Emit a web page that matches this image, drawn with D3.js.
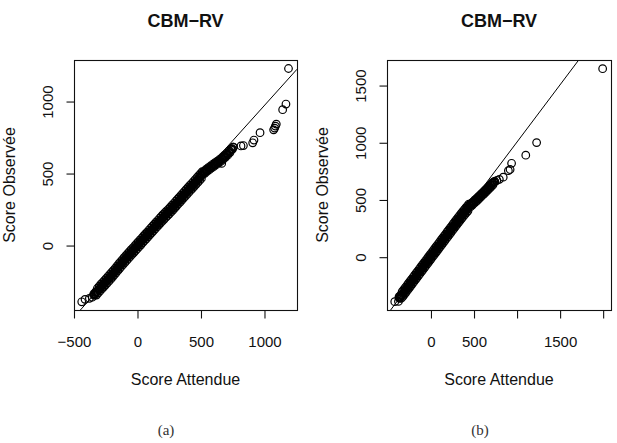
<!DOCTYPE html>
<html>
<head>
<meta charset="utf-8">
<script src="https://cdn.jsdelivr.net/npm/d3@7"></script>
<style>
  html, body { margin: 0; padding: 0; background: #fff; }
  svg { display: block; }
</style>
</head>
<body>
<svg id="chart" width="617" height="443"></svg>
<script>
// ---------------- DATA ----------------
const titles = ["CBM\u2212RV", "CBM\u2212RV"];
const captions = ["(a)", "(b)"];
const xAxisTitle = "Score Attendue";
const yAxisTitle = "Score Observée";

// Panel (a): expected vs observed scores (spread of the dense band + outliers)
const leftExpected = [
  -435, -409, -375, -352,
  -340, -333, -326, -319, -312, -305, -298, -291, -284, -277, -270, -263, -256, -249, -242, -235,
  -228, -221, -214, -207, -200, -193, -186, -179, -172, -165, -158, -151, -144, -137, -130, -123,
  -116, -109, -102, -95, -88, -81, -74, -67, -60, -53, -46, -39, -32, -25, -18, -11, -4, 3, 10,
  17, 24, 31, 38, 45, 52, 59, 66, 73, 80, 87, 94, 101, 108, 115, 122, 129, 136, 143, 150, 157,
  164, 171, 178, 185, 192, 199, 206, 213, 220, 227, 234, 241, 248, 255, 262, 269, 276, 283, 290,
  297, 304, 311, 318, 325, 332, 339, 346, 353, 360, 367, 374, 381, 388, 395, 402, 409, 416, 423,
  430, 437, 444, 451, 458, 465, 472, 479, 486, 493, 500, 507, 514,
  525, 534, 543, 552, 561, 570, 579, 588, 597, 606, 615, 624, 633, 642, 651, 660, 667,
  669, 678, 687, 696, 705, 714, 723, 732, 741, 750, 758,
  819, 838, 911, 921, 969, 1076, 1084, 1090, 1097, 1147, 1173, 1193
];
const leftObserved = [
  -394, -377, -370, -362,
  -339, -348, -325, -347, -300, -333, -286, -319, -272, -305, -259, -292, -245, -278, -231, -264,
  -217, -251, -204, -237, -190, -223, -176, -208, -161, -193, -146, -178, -130, -163, -116, -149,
  -102, -135, -88, -121, -74, -107, -60, -93, -46, -79, -32, -65, -19, -52, -5, -38, 9, -25, 22,
  -11, 36, 2, 49, 16, 63, 30, 77, 43, 90, 57, 104, 71, 118, 84, 131, 98, 145, 112, 159, 126,
  172, 139, 186, 153, 200, 166, 213, 179, 226, 192, 238, 204, 250, 217, 263, 230, 277, 243, 290,
  257, 304, 271, 318, 285, 331, 298, 345, 312, 359, 326, 373, 339, 386, 353, 400, 367, 414, 381,
  427, 394, 441, 408, 455, 422, 469, 435, 482, 449, 496, 463, 510,
  510, 498, 525, 511, 537, 523, 549, 535, 561, 546, 572, 558, 583, 569, 595, 581, 567,
  608, 595, 622, 609, 637, 624, 653, 642, 668, 664, 680,
  688, 691, 710, 729, 780, 800, 812, 826, 840, 940, 979, 1226
];
// Panel (a): centre of the dense band
const leftCoreExpected = [
  -340, -333, -326, -319, -312, -305, -298, -291, -284, -277, -270, -263, -256, -249, -242, -235,
  -228, -221, -214, -207, -200, -193, -186, -179, -172, -165, -158, -151, -144, -137, -130, -123,
  -116, -109, -102, -95, -88, -81, -74, -67, -60, -53, -46, -39, -32, -25, -18, -11, -4, 3, 10,
  17, 24, 31, 38, 45, 52, 59, 66, 73, 80, 87, 94, 101, 108, 115, 122, 129, 136, 143, 150, 157,
  164, 171, 178, 185, 192, 199, 206, 213, 220, 227, 234, 241, 248, 255, 262, 269, 276, 283, 290,
  297, 304, 311, 318, 325, 332, 339, 346, 353, 360, 367, 374, 381, 388, 395, 402, 409, 416, 423,
  430, 437, 444, 451, 458, 465, 472, 479, 486, 493, 500, 507, 514,
  525, 534, 543, 552, 561, 570, 579, 588, 597, 606, 615, 624, 633, 642, 651, 660,
  669, 678, 687, 696, 705, 714, 723, 732, 741, 750, 758
];
const leftCoreObserved = [
  -347, -340, -333, -327, -320, -313, -306, -299, -292, -285, -279, -272, -265, -258, -251, -244,
  -237, -231, -224, -217, -210, -203, -196, -188, -181, -173, -166, -158, -150, -143, -136, -129,
  -122, -115, -108, -101, -94, -87, -80, -73, -66, -59, -52, -45, -39, -32, -25, -18, -11, -5, 2,
  9, 16, 22, 29, 36, 43, 50, 57, 63, 70, 77, 84, 91, 98, 104, 111, 118, 125, 132, 139, 146,
  152, 159, 166, 173, 180, 186, 193, 199, 206, 212, 218, 224, 230, 237, 243, 250, 257, 263, 270,
  277, 284, 291, 298, 305, 311, 318, 325, 332, 339, 346, 353, 359, 366, 373, 380, 387, 394, 401,
  407, 414, 421, 428, 435, 442, 449, 455, 462, 469, 476, 483, 490,
  500, 508, 515, 521, 527, 533, 539, 545, 551, 556, 562, 568, 573, 579, 585, 591,
  598, 605, 612, 619, 627, 634, 643, 652, 661, 670, 680
];

// Panel (b)
const rightExpected = [
  -415, -372,
  -365, -356, -347, -338, -329, -320, -311, -302, -293, -284, -275, -266, -257, -248, -239, -230,
  -221, -212, -203, -194, -185, -176, -167, -158, -149, -140, -131, -122, -113, -104, -95, -86,
  -77, -68, -59, -50, -41, -32, -23, -14, -5, 4, 13, 22, 31, 40, 49, 58, 67, 76, 85, 94, 103, 112,
  121, 130, 139, 148, 157, 166, 175, 184, 193, 202, 211, 220, 229, 238, 247, 256, 265, 274, 283,
  292, 301, 310, 319, 328, 337, 346, 355, 364, 373, 382, 391, 400, 409, 418, 427, 436, 445,
  456, 466, 476, 486, 496, 506, 516, 526, 536, 546, 556, 566, 576, 586, 596, 606, 616, 626, 636,
  646, 656, 666, 676, 686, 696, 706, 716, 726, 736, 748,
  772, 800, 845, 905, 925, 942, 1107, 1233, 2000
];
const rightObserved = [
  -393, -391,
  -350, -364, -336, -363, -305, -347, -288, -329, -270, -311, -252, -293, -234, -275, -216, -257,
  -198, -239, -180, -221, -162, -203, -144, -185, -126, -167, -108, -149, -90, -131, -72, -113,
  -54, -95, -36, -77, -18, -59, 0, -41, 18, -23, 36, -5, 54, 13, 72, 31, 90, 49, 108, 67, 126, 85,
  144, 103, 162, 121, 180, 139, 198, 157, 216, 175, 234, 193, 252, 211, 270, 229, 288, 247, 306,
  265, 324, 283, 342, 300, 359, 318, 376, 335, 393, 352, 410, 369, 427, 385, 443, 401, 459,
  454, 437, 468, 451, 482, 465, 496, 479, 510, 493, 525, 508, 539, 523, 554, 537, 568, 552, 583,
  567, 598, 582, 613, 597, 629, 613, 645, 628, 655, 655,
  666, 676, 695, 752, 762, 816, 887, 997, 1643
];
const rightCoreExpected = [
  -365, -356, -347, -338, -329, -320, -311, -302, -293, -284, -275, -266, -257, -248, -239, -230,
  -221, -212, -203, -194, -185, -176, -167, -158, -149, -140, -131, -122, -113, -104, -95, -86,
  -77, -68, -59, -50, -41, -32, -23, -14, -5, 4, 13, 22, 31, 40, 49, 58, 67, 76, 85, 94, 103, 112,
  121, 130, 139, 148, 157, 166, 175, 184, 193, 202, 211, 220, 229, 238, 247, 256, 265, 274, 283,
  292, 301, 310, 319, 328, 337, 346, 355, 364, 373, 382, 391, 400, 409, 418, 427, 436, 445,
  456, 466, 476, 486, 496, 506, 516, 526, 536, 546, 556, 566, 576, 586, 596, 606, 616, 626, 636,
  646, 656, 666, 676, 686, 696, 706, 716, 726, 736, 748
];
const rightCoreObserved = [
  -360, -354, -346, -338, -330, -322, -313, -304, -295, -286, -277, -268, -259, -250, -241, -232,
  -223, -214, -205, -196, -187, -178, -169, -160, -151, -142, -133, -124, -115, -106, -97, -88,
  -79, -70, -61, -52, -43, -34, -25, -16, -7, 2, 11, 20, 29, 38, 47, 56, 65, 74, 83, 92, 101, 110,
  119, 128, 137, 146, 155, 164, 173, 182, 191, 200, 209, 218, 227, 236, 245, 254, 263, 272, 281,
  290, 299, 308, 317, 325, 334, 343, 351, 360, 368, 377, 385, 394, 402, 410, 418, 426, 434,
  447, 454, 461, 468, 475, 482, 489, 496, 503, 510, 518, 525, 532, 540, 547, 554, 561, 569, 576,
  584, 591, 599, 606, 614, 622, 630, 638, 645, 651, 656
];

// Reference lines [intercept, slope]
const leftRefLine = [-14, 0.98];
const rightRefLine = [-3, 1.0];

// Axis ticks
const leftXTicks = [-500, 0, 500, 1000];
const leftXTickLabels = ["\u2212500", "0", "500", "1000"];
const leftYTicks = [0, 500, 1000];
const leftYTickLabels = ["0", "500", "1000"];
const rightXTicks = [0, 500, 1000, 1500, 2000];
const rightXTickLabels = ["0", "500", "", "1500", ""];
const rightYTicks = [0, 500, 1000, 1500];
const rightYTickLabels = ["0", "500", "1000", "1500"];

// ---------------- LAYOUT ----------------
const svg = d3.select("#chart");
const FONT = "'Liberation Sans', Arial, Helvetica, sans-serif";

const panels = [
  {
    box: { x0: 74, x1: 297, y0: 60, y1: 310 },
    xDomain: [-496, 1260], yDomain: [-451, 1285],
    series: [[leftExpected, leftObserved], [leftCoreExpected, leftCoreObserved]],
    ref: leftRefLine,
    xt: leftXTicks, xtl: leftXTickLabels, yt: leftYTicks, ytl: leftYTickLabels,
    title: titles[0], caption: captions[0], capX: 166
  },
  {
    box: { x0: 387, x1: 611, y0: 60, y1: 310 },
    xDomain: [-505, 2097], yDomain: [-466, 1719],
    series: [[rightExpected, rightObserved], [rightCoreExpected, rightCoreObserved]],
    ref: rightRefLine,
    xt: rightXTicks, xtl: rightXTickLabels, yt: rightYTicks, ytl: rightYTickLabels,
    title: titles[1], caption: captions[1], capX: 480
  }
];

panels.forEach((p, pi) => {
  const b = p.box;
  const x = d3.scaleLinear().domain(p.xDomain).range([b.x0, b.x1]);
  const y = d3.scaleLinear().domain(p.yDomain).range([b.y1, b.y0]);
  const g = svg.append("g");

  const clipId = "clip" + pi;
  svg.append("clipPath").attr("id", clipId)
    .append("rect").attr("x", b.x0).attr("y", b.y0)
    .attr("width", b.x1 - b.x0).attr("height", b.y1 - b.y0);

  // points
  const pts = [];
  p.series.forEach(([ex, ob], si) => {
    if (ex.length !== ob.length) console.error("length mismatch", pi, si, ex.length, ob.length);
    const n = Math.min(ex.length, ob.length);
    for (let i = 0; i < n; i++) pts.push([ex[i], ob[i]]);
  });
  g.append("g")
    .selectAll("circle").data(pts).join("circle")
    .attr("cx", d => x(d[0])).attr("cy", d => y(d[1]))
    .attr("r", 3.8)
    .attr("fill", "none").attr("stroke", "#000").attr("stroke-width", 1.2);

  // reference line
  const [a, s] = p.ref;
  g.append("line")
    .attr("clip-path", `url(#${clipId})`)
    .attr("x1", x(p.xDomain[0])).attr("y1", y(a + s * p.xDomain[0]))
    .attr("x2", x(p.xDomain[1])).attr("y2", y(a + s * p.xDomain[1]))
    .attr("stroke", "#000").attr("stroke-width", 1);

  // box
  g.append("rect")
    .attr("x", b.x0 + 0.5).attr("y", b.y0 + 0.5)
    .attr("width", b.x1 - b.x0).attr("height", b.y1 - b.y0)
    .attr("fill", "none").attr("stroke", "#111").attr("stroke-width", 1.1);

  // x axis
  const xa = g.append("g").attr("transform", `translate(0.5,${b.y1 + 0.5})`)
    .call(d3.axisBottom(x).tickValues(p.xt).tickFormat((d, i) => p.xtl[i]).tickSize(8).tickSizeOuter(0));
  xa.select(".domain").remove();
  xa.append("line").attr("x1", x(p.xt[0])).attr("x2", x(p.xt[p.xt.length - 1]))
    .attr("y1", 0).attr("y2", 0).attr("stroke", "#111");
  xa.selectAll(".tick line").attr("stroke", "#111").attr("stroke-width", 1.1);
  xa.selectAll(".tick text")
    .attr("y", 36.5).attr("dy", 0)
    .attr("font-family", FONT).attr("font-size", 15).attr("fill", "#111");

  // y axis
  const ya = g.append("g").attr("transform", `translate(${b.x0 + 0.5},0.5)`)
    .call(d3.axisLeft(y).tickValues(p.yt).tickFormat((d, i) => p.ytl[i]).tickSize(8).tickSizeOuter(0));
  ya.select(".domain").remove();
  ya.append("line").attr("y1", y(p.yt[0])).attr("y2", y(p.yt[p.yt.length - 1]))
    .attr("x1", 0).attr("x2", 0).attr("stroke", "#111");
  ya.selectAll(".tick line").attr("stroke", "#111").attr("stroke-width", 1.1);
  ya.selectAll(".tick text")
    .attr("x", 0).attr("y", -22).attr("dy", 0)
    .attr("transform", "rotate(-90)")
    .attr("text-anchor", "middle")
    .attr("font-family", FONT).attr("font-size", 15).attr("fill", "#111");
  ya.attr("font-family", null).attr("font-size", null);
  xa.attr("font-family", null).attr("font-size", null);

  const cx = (b.x0 + b.x1) / 2;
  const cy = (b.y0 + b.y1) / 2;

  svg.append("text").attr("x", cx).attr("y", 27)
    .attr("text-anchor", "middle").attr("font-family", FONT)
    .attr("font-weight", "bold").attr("font-size", 18).attr("fill", "#111")
    .text(p.title);

  svg.append("text").attr("x", cx).attr("y", 385)
    .attr("text-anchor", "middle").attr("font-family", FONT)
    .attr("font-size", 16).attr("fill", "#111")
    .text(xAxisTitle);

  const ytX = b.x0 - 59;
  svg.append("text").attr("x", ytX).attr("y", cy)
    .attr("transform", `rotate(-90,${ytX},${cy})`)
    .attr("text-anchor", "middle").attr("font-family", FONT)
    .attr("font-size", 16).attr("fill", "#111")
    .text(yAxisTitle);

  svg.append("text").attr("x", p.capX).attr("y", 435)
    .attr("text-anchor", "middle")
    .attr("font-family", "'Liberation Serif', 'DejaVu Serif', serif")
    .attr("font-size", 15).attr("fill", "#333")
    .text(p.caption);
});
</script>
</body>
</html>
